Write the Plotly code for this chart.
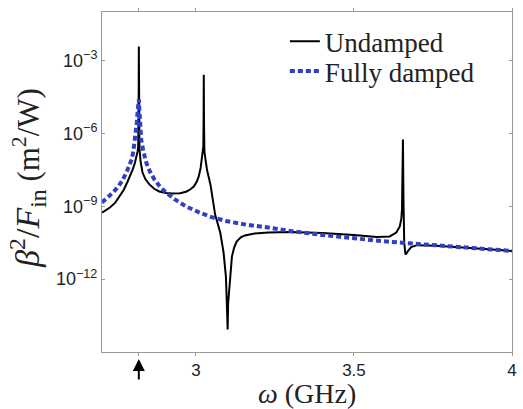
import plotly.graph_objects as go

# Values are log10 of beta^2/F_in (m^2/W).
# Undamped response (black solid)
omega_undamped = [2.703, 2.728, 2.745, 2.759, 2.772, 2.784, 2.793, 2.800, 2.807, 2.812,
                  2.8155, 2.8175, 2.8185, 2.8192, 2.8195, 2.8198, 2.8205, 2.8215, 2.825, 2.831,
                  2.840, 2.853, 2.868, 2.884, 2.905, 2.925, 2.950, 2.969, 2.983, 2.994,
                  3.003, 3.009, 3.015, 3.019, 3.022, 3.0235, 3.0243, 3.0248, 3.0250, 3.0252,
                  3.0257, 3.027, 3.031, 3.035, 3.046, 3.061, 3.077, 3.0875, 3.095, 3.099,
                  3.1005, 3.102, 3.105, 3.108, 3.114, 3.121, 3.129, 3.142, 3.155, 3.186,
                  3.230, 3.300, 3.400, 3.500, 3.572, 3.613, 3.634, 3.645, 3.650, 3.652,
                  3.654, 3.655, 3.6565, 3.659, 3.663, 3.666, 3.672, 3.681, 3.700, 3.760,
                  3.880, 4.000]
log_beta_undamped = [-9.26, -9.05, -8.85, -8.60, -8.32, -7.98, -7.72, -7.49, -7.22, -7.00,
                     -6.75, -6.54, -5.8, -4.0, -2.42, -4.0, -5.8, -6.6, -7.15, -7.60,
                     -7.88, -8.10, -8.28, -8.39, -8.45, -8.47, -8.46, -8.40, -8.30, -8.18,
                     -7.98, -7.77, -7.42, -7.07, -6.80, -6.54, -5.6, -4.2, -3.58, -4.2,
                     -5.6, -6.75, -7.15, -7.49, -8.10, -9.35, -10.08, -10.9, -11.9, -13.0,
                     -14.07, -13.0, -12.5, -11.9, -11.07, -10.70, -10.45, -10.28, -10.20, -10.12,
                     -10.08, -10.06, -10.10, -10.18, -10.26, -10.24, -10.08, -9.83, -9.5, -9.13,
                     -8.0, -6.25, -8.5, -10.5, -10.98, -10.95, -10.82, -10.68, -10.60, -10.62,
                     -10.73, -10.84]

# Fully damped response (blue dotted)
omega_damped = [2.703, 2.720, 2.738, 2.755, 2.769, 2.782, 2.790, 2.797, 2.802, 2.806,
                2.810, 2.813, 2.816, 2.8195, 2.822, 2.825, 2.827, 2.834, 2.843, 2.855,
                2.869, 2.886, 2.905, 2.935, 2.968, 3.010, 3.050, 3.100, 3.160, 3.228,
                3.300, 3.400, 3.500, 3.570, 3.640, 3.760, 3.880, 4.000]
log_beta_damped = [-8.84, -8.65, -8.43, -8.18, -7.90, -7.55, -7.32, -7.07, -6.75, -6.37,
                   -6.0, -5.55, -5.05, -4.60, -5.2, -5.8, -6.25, -6.75, -7.20, -7.58,
                   -7.90, -8.18, -8.43, -8.73, -9.00, -9.25, -9.45, -9.62, -9.76, -9.87,
                   -10.02, -10.18, -10.33, -10.41, -10.49, -10.62, -10.73, -10.84]

resonance_marker = 2.8195
x_tickvals = [resonance_marker, 3, 3.5, 4]
x_ticktext = ["", "3", "3.5", "4"]
y_tickvals = [-12, -9, -6, -3]
y_ticktext = ["10<sup>−12</sup>", "10<sup>−9</sup>", "10<sup>−6</sup>", "10<sup>−3</sup>"]

fig = go.Figure()
fig.add_trace(go.Scatter(x=omega_undamped, y=log_beta_undamped, mode="lines", name="Undamped",
                         line=dict(color="black", width=2), legend="legend"))
fig.add_trace(go.Scatter(x=omega_damped, y=log_beta_damped, mode="lines", name="Fully damped",
                         line=dict(color="#3040c0", width=4, dash="5px,3px"), legend="legend2"))

axis_common = dict(showline=True, linecolor="#999999", linewidth=1, mirror="ticks",
                   ticklen=3, tickcolor="#999999", showgrid=False, zeroline=False)

legend_font = dict(family="Liberation Serif, Times New Roman", size=27, color="#222222")

fig.update_layout(
    width=523, height=409,
    margin=dict(l=102, r=6, t=12, b=57),
    paper_bgcolor="white", plot_bgcolor="white",
    xaxis=dict(range=[2.703, 4.0], tickvals=x_tickvals, ticktext=x_ticktext, ticks="outside",
               tickfont=dict(family="Liberation Sans, Arial", size=17, color="#222222"), **axis_common),
    yaxis=dict(range=[-15, -1], tickvals=y_tickvals, ticktext=y_ticktext, ticks="inside",
               tickfont=dict(family="Liberation Sans, Arial", size=18, color="#222222"), **axis_common),
    legend=dict(x=0.446, y=0.985, xanchor="left", yanchor="top", bgcolor="rgba(0,0,0,0)",
                font=legend_font),
    legend2=dict(x=0.446, y=0.897, xanchor="left", yanchor="top", bgcolor="rgba(0,0,0,0)",
                 font=legend_font),
    showlegend=True,
)

# Arrow marking the resonance on the frequency axis
fig.add_annotation(x=resonance_marker, xref="x", y=0, yref="paper", yshift=-7, text="",
                   showarrow=True, ax=0, ay=22, arrowhead=2, arrowsize=1.2, arrowwidth=2,
                   arrowcolor="black")

fig.add_annotation(text="<i>ω</i> (GHz)", xref="paper", yref="paper", x=0.5, y=0, yshift=-41,
                   xanchor="center", yanchor="middle", showarrow=False,
                   font=dict(family="Liberation Serif, Times New Roman", size=28, color="#222222"))
fig.add_annotation(text="<span style='font-size:34px'><i>β</i><sup>2</sup>/<i>F</i><sub>in</sub></span> (m<sup>2</sup>/W)",
                   xref="paper", yref="paper", x=0, y=0.512, xshift=-74,
                   xanchor="center", yanchor="middle", textangle=-90, showarrow=False,
                   font=dict(family="Liberation Serif, Times New Roman", size=31, color="#222222"))

fig.write_html("out.html")
